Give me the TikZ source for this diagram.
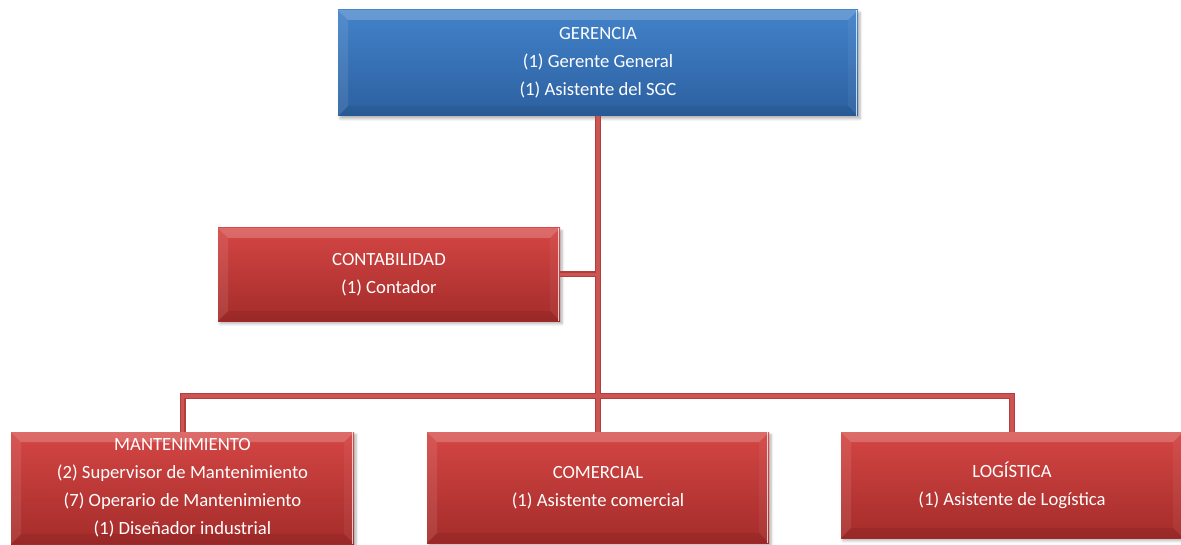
\documentclass[tikz,border=0pt]{standalone}
\usepackage{fontspec}
\setmainfont{Carlito}
\usetikzlibrary{shadows.blur}

\definecolor{redtop}{RGB}{212,70,68}
\definecolor{redbot}{RGB}{164,44,42}
\definecolor{bluetop}{RGB}{66,130,202}
\definecolor{bluebot}{RGB}{44,96,160}
\definecolor{wireedge}{RGB}{176,62,60}
\definecolor{wirecore}{RGB}{204,84,82}

\tikzset{
  % bevelled facets drawn inside each unit box
  bevel/.style={
    path picture={
      \coordinate (bvnw) at (path picture bounding box.north west);
      \coordinate (bvse) at (path picture bounding box.south east);
      \coordinate (bvne) at (bvnw -| bvse);
      \coordinate (bvsw) at (bvnw |- bvse);
      \fill[white,opacity=.20] (bvnw) -- (bvne) -- ([xshift=-7.5pt,yshift=-7.5pt]bvne)
        -- ([xshift=7.5pt,yshift=-7.5pt]bvnw) -- cycle;
      \fill[white,opacity=.09] (bvnw) -- ([xshift=7.5pt,yshift=-7.5pt]bvnw)
        -- ([xshift=7.5pt,yshift=7.5pt]bvsw) -- (bvsw) -- cycle;
      \fill[black,opacity=.07] (bvsw) -- ([xshift=7.5pt,yshift=7.5pt]bvsw)
        -- ([xshift=-7.5pt,yshift=7.5pt]bvse) -- (bvse) -- cycle;
      \fill[white,opacity=.05] (bvne) -- (bvse) -- ([xshift=-7.5pt,yshift=7.5pt]bvse)
        -- ([xshift=-7.5pt,yshift=-7.5pt]bvne) -- cycle;
      \draw[white,opacity=.75,line width=1.1pt] ([xshift=-1.3pt]bvne) -- ([xshift=-1.3pt]bvse);
    }},
  unit/.style={rectangle, inner sep=0pt, text=white, align=center,
    font=\fontsize{14}{21}\selectfont, bevel,
    blur shadow={shadow xshift=1.5pt, shadow yshift=-2pt, shadow blur steps=6, shadow opacity=30}},
  redunit/.style={unit, top color=redtop, bottom color=redbot},
  blueunit/.style={unit, top color=bluetop, bottom color=bluebot},
  wire/.style={line width=4.5pt, draw=wireedge, line join=miter},
  wirein/.style={line width=2.3pt, draw=wirecore, line join=miter},
}

% all organisational links, drawn once per style
\newcommand\orgwires[1]{%
  \draw[#1] (ger.south) -- (com.north);
  \draw[#1] (cont.east) -- (cont.east -| ger.south);
  \draw[#1] (mant.north) -- (mant.north |- bar) -- (log.north |- bar) -- (log.north);
}

\begin{document}
\begin{tikzpicture}[x=0.75pt,y=-0.75pt]
  \useasboundingbox (0,0) rectangle (1181,545);

  \node[blueunit, minimum width=390pt, minimum height=79.5pt] (ger) at (598,63)
    {GERENCIA\\(1) Gerente General\\(1) Asistente del SGC};
  \node[redunit, minimum width=256.5pt, minimum height=69.75pt] (cont) at (389,274.5)
    {CONTABILIDAD\\(1) Contador};
  \node[redunit, minimum width=257.25pt, minimum height=84pt] (mant) at (182.5,488)
    {MANTENIMIENTO\\(2) Supervisor de Mantenimiento\\(7) Operario de Mantenimiento\\(1) Diseñador industrial};
  \node[redunit, minimum width=256.5pt, minimum height=83.25pt] (com) at (598,487.5)
    {COMERCIAL\\(1) Asistente comercial};
  \node[redunit, minimum width=256.5pt, minimum height=79.5pt] (log) at (1012,485)
    {LOGÍSTICA\\(1) Asistente de Logística};

  \coordinate (bar) at (598,396);

  \orgwires{wire}
  \orgwires{wirein}
\end{tikzpicture}
\end{document}
